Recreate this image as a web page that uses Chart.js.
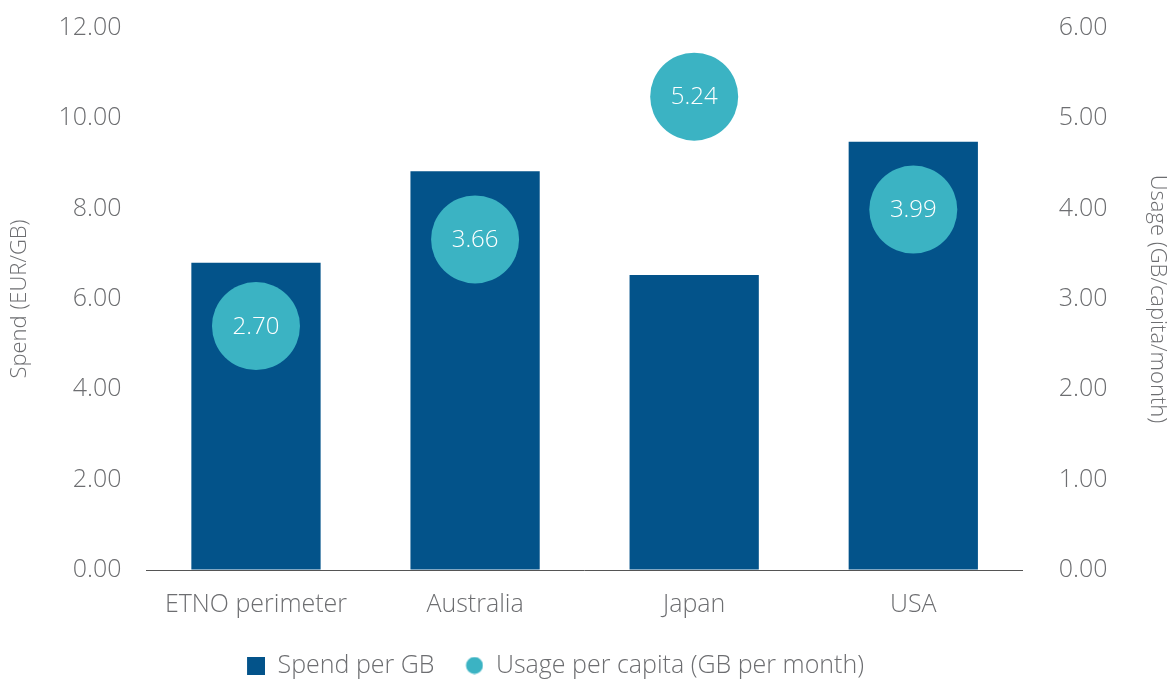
<!DOCTYPE html>
<html>
<head>
<meta charset="utf-8">
<script src="https://cdn.jsdelivr.net/npm/chart.js@4/dist/chart.umd.min.js"></script>
<style>
  html, body { margin: 0; padding: 0; background: #fff; }
  #wrap { width: 1170px; height: 680px; }
</style>
</head>
<body>
<div id="wrap"><canvas id="chart-spend"></canvas></div>
<script>
// Data
const countries = ['ETNO perimeter', 'Australia', 'Japan', 'USA'];
const spendPerGB = [6.80, 8.83, 6.53, 9.48];
const usagePerCapita = [2.70, 3.66, 5.24, 3.99];

const darkBlue = '#03538a';
const teal = '#3bb3c3';
const grey = '#6d6e71';
const font = "'Open Sans', sans-serif";

// legend markers: shape sits at the right end so there is room before it
function marker(shape, color) {
	const c = document.createElement('canvas');
	c.width = 36;
	c.height = 18;
	const g = c.getContext('2d');
	g.fillStyle = color;
	if (shape === 'circle') {
		g.beginPath();
		g.arc(27, 9, 8.5, 0, Math.PI * 2);
		g.fill();
	} else {
		g.fillRect(18, 0, 18, 18);
	}
	return c;
}
const legendMarkers = [marker('rect', darkBlue), marker('circle', teal)];

// white value text inside the circles
const bubbleLabels = {
	id: 'bubbleLabels',
	afterDatasetsDraw(chart) {
		const ctx = chart.ctx;
		const meta = chart.getDatasetMeta(1);
		ctx.save();
		ctx.fillStyle = '#ffffff';
		ctx.font = '300 24px ' + font;
		ctx.textAlign = 'center';
		ctx.textBaseline = 'middle';
		meta.data.forEach((pt, i) => {
			ctx.fillText(usagePerCapita[i].toFixed(2), pt.x, pt.y + 1);
		});
		ctx.restore();
	},
};

// legend in the original sits a bit left of centre and lower
const legendShift = {
	id: 'legendShift',
	afterLayout(chart) {
		chart.legend.left -= 42;
		chart.legend.right -= 42;
		chart.legend.top += 8;
		chart.legend.bottom += 8;
	},
};

// invisible tick marks give the gap between tick labels and plot
const hiddenTicks = (len) => ({
	display: true,
	drawOnChartArea: false,
	drawTicks: true,
	tickLength: len,
	color: 'rgba(0,0,0,0)',
});

!(function () {
	const ctx = document.getElementById('chart-spend');

	new Chart(ctx, {
		data: {
			labels: countries,
			datasets: [
				{
					type: 'bar',
					label: 'Spend per GB',
					data: spendPerGB,
					backgroundColor: darkBlue,
					yAxisID: 'y',
					barPercentage: 0.59,
					categoryPercentage: 1,
					order: 2,
				},
				{
					type: 'line',
					label: 'Usage per capita (GB per month)',
					data: usagePerCapita,
					showLine: false,
					backgroundColor: teal,
					borderColor: teal,
					pointRadius: 44,
					pointHoverRadius: 44,
					pointBorderWidth: 0,
					yAxisID: 'y1',
					order: 1,
				},
			],
		},
		options: {
			responsive: true,
			maintainAspectRatio: false,
			animation: false,
			layout: {
				autoPadding: false,
				padding: { top: 28, bottom: 0, left: 7, right: 0 },
			},
			scales: {
				x: {
					grid: { display: false },
					border: { display: true, color: '#555', width: 1 },
					ticks: { color: grey, font: { family: font, size: 25, weight: 300 }, padding: 12 },
				},
				y: {
					position: 'left',
					min: 0,
					max: 12,
					grid: hiddenTicks(25),
					border: { display: false },
					afterFit: (scale) => {
						scale.width += 25;
					},
					ticks: {
						stepSize: 2,
						color: grey,
						padding: 0,
						font: { family: font, size: 25, weight: 300 },
						callback: (v) => v.toFixed(2),
					},
					title: {
						display: true,
						text: 'Spend (EUR/GB)',
						color: grey,
						font: { family: font, size: 22, weight: 300 },
						padding: 0,
					},
				},
				y1: {
					position: 'right',
					min: 0,
					max: 6,
					grid: hiddenTicks(36),
					border: { display: false },
					afterFit: (scale) => {
						scale.width += 36;
					},
					ticks: {
						stepSize: 1,
						color: grey,
						padding: 0,
						font: { family: font, size: 25, weight: 300 },
						callback: (v) => v.toFixed(2),
					},
					title: {
						display: true,
						text: 'Usage (GB/capita/month)',
						color: grey,
						font: { family: font, size: 22, weight: 300 },
						padding: 0,
					},
				},
			},
			plugins: {
				tooltip: { enabled: false },
				legend: {
					position: 'bottom',
					labels: {
						usePointStyle: true,
						boxHeight: 18,
						pointStyleWidth: 36,
						padding: 13,
						color: grey,
						font: { family: font, size: 25, weight: 300 },
						sort: (a, b) => a.datasetIndex - b.datasetIndex,
						generateLabels: (chart) => {
							const items = Chart.defaults.plugins.legend.labels.generateLabels(chart);
							items.forEach((it) => {
								it.pointStyle = legendMarkers[it.datasetIndex];
							});
							return items;
						},
					},
				},
			},
		},
		plugins: [bubbleLabels, legendShift],
	});
})();
</script>
</body>
</html>
